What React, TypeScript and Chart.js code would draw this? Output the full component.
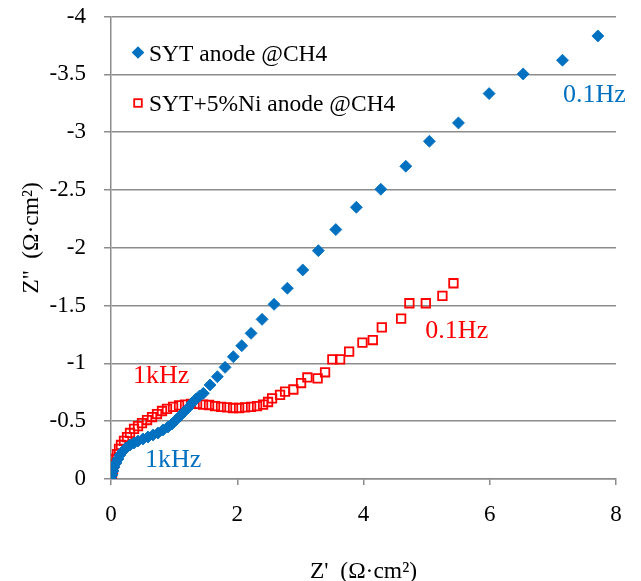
import React, { useEffect, useRef } from "react";
import { Chart, registerables } from "chart.js";

Chart.register(...registerables);

// ---------- data ----------
const seriesNames = ["SYT anode @CH4", "SYT+5%Ni anode @CH4"];

// SYT anode @CH4 (Z' , Z'')
const sytZre = [
  0.0, 0.016, 0.032, 0.048, 0.079, 0.111, 0.143, 0.19, 0.238, 0.301, 0.365, 0.428,
  0.507, 0.586, 0.666, 0.745, 0.824, 0.903, 0.967, 1.03, 1.094, 1.157, 1.22, 1.284,
  1.347, 1.403, 1.463, 1.569, 1.685, 1.807, 1.938, 2.071, 2.219, 2.393, 2.583, 2.794,
  3.038, 3.285, 3.561, 3.887, 4.274, 4.67, 5.044, 5.504, 5.99, 6.529, 7.152, 7.713,
];
const sytZim = [
  0.0, -0.035, -0.069, -0.104, -0.138, -0.173, -0.208, -0.242, -0.268, -0.294, -0.311, -0.329,
  -0.346, -0.363, -0.381, -0.398, -0.424, -0.45, -0.476, -0.51, -0.545, -0.58, -0.614, -0.657,
  -0.692, -0.718, -0.741, -0.813, -0.885, -0.966, -1.058, -1.153, -1.26, -1.381, -1.511, -1.65,
  -1.808, -1.975, -2.157, -2.35, -2.506, -2.705, -2.921, -3.08, -3.333, -3.503, -3.622, -3.832,
];

// SYT+5%Ni anode @CH4 (Z' , Z'')
const niZre = [
  0.0, 0.016, 0.032, 0.048, 0.063, 0.095, 0.127, 0.158, 0.206, 0.254, 0.301, 0.365,
  0.428, 0.491, 0.571, 0.65, 0.729, 0.808, 0.887, 0.983, 1.078, 1.173, 1.268, 1.363,
  1.458, 1.553, 1.648, 1.743, 1.838, 1.933, 2.029, 2.124, 2.219, 2.314, 2.409, 2.488,
  2.552, 2.678, 2.758, 2.889, 3.011, 3.111, 3.273, 3.391, 3.507, 3.629, 3.772, 3.983,
  4.147, 4.29, 4.596, 4.727, 4.987, 5.25, 5.425,
];
const niZim = [
  0.0, -0.043, -0.087, -0.13, -0.173, -0.216, -0.26, -0.294, -0.329, -0.363, -0.398, -0.433,
  -0.458, -0.484, -0.51, -0.536, -0.562, -0.588, -0.606, -0.623, -0.636, -0.644, -0.649, -0.649,
  -0.644, -0.64, -0.631, -0.623, -0.619, -0.614, -0.614, -0.619, -0.623, -0.631, -0.644, -0.666,
  -0.698, -0.727, -0.755, -0.774, -0.83, -0.878, -0.871, -0.923, -1.035, -1.035, -1.101, -1.179,
  -1.202, -1.312, -1.387, -1.52, -1.52, -1.583, -1.693,
];

const xTicks = [0, 2, 4, 6, 8];
const yTicks = [0, -0.5, -1, -1.5, -2, -2.5, -3, -3.5, -4];

const xTitle = "Z'  (Ω·cm²)";
const yTitle = "Z''  (Ω·cm²)";

// frequency annotations: [text, Z', Z'' (left/baseline anchor), series index]
const freqText = ["0.1Hz", "0.1Hz", "1kHz", "1kHz"];
const freqX = [7.16, 4.98, 0.35, 0.54];
const freqY = [-3.264, -1.22, -0.83, -0.106];
const freqSeries = [0, 1, 1, 0];

const colors = ["#0070C0", "#FF0000"];
const SERIF = "'Liberation Serif', 'Times New Roman', serif";
const GRID = "#8c8c8c";

function zip(xs: number[], ys: number[]) {
  return xs.map((x, i) => ({ x, y: ys[i] }));
}

const overlayPlugin = {
  id: "overlayText",
  afterDraw(chart: any) {
    const ctx = chart.ctx as CanvasRenderingContext2D;
    const xs = chart.scales.x;
    const ys = chart.scales.y;
    const area = chart.chartArea;
    ctx.save();

    // legend
    ctx.font = `23.5px ${SERIF}`;
    ctx.textAlign = "left";
    ctx.textBaseline = "alphabetic";
    const lx = area.left + 27;
    const ly = [area.top + 36, area.top + 86.5];
    // diamond
    ctx.fillStyle = colors[0];
    ctx.beginPath();
    ctx.moveTo(lx, ly[0] - 6.3);
    ctx.lineTo(lx + 6.3, ly[0]);
    ctx.lineTo(lx, ly[0] + 6.3);
    ctx.lineTo(lx - 6.3, ly[0]);
    ctx.closePath();
    ctx.fill();
    // square
    ctx.strokeStyle = colors[1];
    ctx.lineWidth = 1.8;
    ctx.strokeRect(lx - 3.8, ly[1] - 3.8, 7.6, 7.6);
    ctx.fillStyle = "#000";
    ctx.fillText(seriesNames[0], lx + 11, ly[0] + 8.5);
    ctx.fillText(seriesNames[1], lx + 11, ly[1] + 8);

    // frequency annotations
    ctx.font = `26px ${SERIF}`;
    for (let i = 0; i < freqText.length; i++) {
      ctx.fillStyle = colors[freqSeries[i]];
      ctx.fillText(freqText[i], xs.getPixelForValue(freqX[i]), ys.getPixelForValue(freqY[i]));
    }

    // axis titles
    ctx.fillStyle = "#000";
    ctx.font = `23.5px ${SERIF}`;
    ctx.textAlign = "center";
    ctx.textBaseline = "alphabetic";
    ctx.fillText(xTitle, (area.left + area.right) / 2, 578);
    ctx.translate(38, (area.top + area.bottom) / 2 - 10);
    ctx.rotate(-Math.PI / 2);
    ctx.fillText(yTitle, 0, 0);
    ctx.restore();
  },
};

export default function App() {
  const ref = useRef<HTMLCanvasElement | null>(null);

  useEffect(() => {
    if (!ref.current) return;
    const chart = new Chart(ref.current, {
      type: "scatter",
      data: {
        datasets: [
          {
            label: seriesNames[0],
            data: zip(sytZre, sytZim),
            pointStyle: "rectRot",
            pointRadius: 6,
            pointBorderWidth: 0.8,
            backgroundColor: colors[0],
            borderColor: colors[0],
            showLine: false,
          },
          {
            label: seriesNames[1],
            data: zip(niZre, niZim),
            pointStyle: "rect",
            pointRadius: 6,
            pointBorderWidth: 1.8,
            backgroundColor: "rgba(0,0,0,0)",
            borderColor: colors[1],
            showLine: false,
          },
        ],
      },
      options: {
        animation: false,
        responsive: false,
        devicePixelRatio: 1,
        layout: { padding: { left: 0, right: 25, top: 16.5, bottom: 0 } },
        plugins: {
          legend: { display: false },
          tooltip: { enabled: false },
        },
        scales: {
          x: {
            type: "linear",
            min: 0,
            max: 8,
            afterBuildTicks: (s: any) => {
              s.ticks = xTicks.map((v) => ({ value: v }));
            },
            afterFit: (s: any) => {
              s.height = 102;
              s.paddingLeft = 0;
              s.paddingRight = 0;
              s.paddingTop = 0;
              s.paddingBottom = 0;
            },
            ticks: {
              padding: 16,
              color: "#000",
              font: { family: SERIF, size: 23 },
              callback: (v: any) => String(v),
            },
            grid: {
              drawOnChartArea: false,
              color: GRID,
              lineWidth: 1.5,
              tickLength: 6,
            },
            border: { color: GRID, width: 1.5 },
          },
          y: {
            type: "linear",
            min: -4,
            max: 0,
            reverse: true,
            afterBuildTicks: (s: any) => {
              s.ticks = yTicks.map((v) => ({ value: v }));
            },
            afterFit: (s: any) => {
              s.width = 111;
              s.paddingLeft = 0;
              s.paddingRight = 0;
              s.paddingTop = 0;
              s.paddingBottom = 0;
            },
            ticks: {
              padding: 18,
              color: "#000",
              font: { family: SERIF, size: 23 },
              callback: (v: any) => String(v),
            },
            grid: {
              color: GRID,
              lineWidth: 1.5,
              tickLength: 7,
            },
            border: { color: GRID, width: 1.5 },
          },
        },
      },
      plugins: [overlayPlugin],
    } as any);
    return () => chart.destroy();
  }, []);

  return (
    <div style={{ position: "absolute", left: 0, top: 0, width: 641, height: 581, background: "#fff" }}>
      <canvas ref={ref} width={641} height={581} style={{ display: "block" }} />
    </div>
  );
}
